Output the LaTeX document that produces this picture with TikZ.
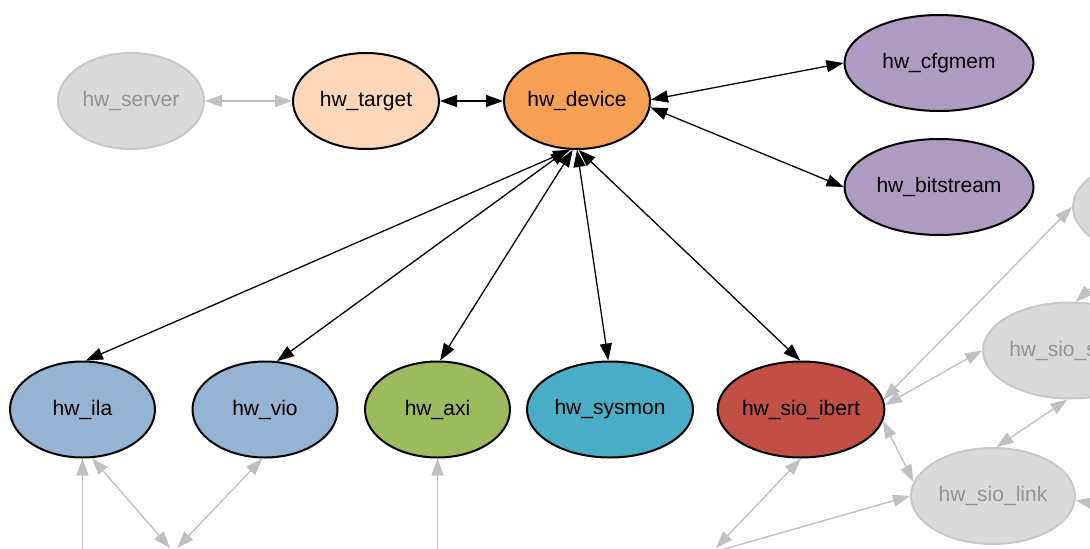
\documentclass[tikz,border=0pt]{standalone}
\usepackage{fontspec}
\setmainfont{Liberation Sans}
\usetikzlibrary{shapes.geometric,arrows.meta}
\definecolor{cTarget}{HTML}{FCD7B9}
\definecolor{cDevice}{HTML}{F6A055}
\definecolor{cPurple}{HTML}{AE9BC2}
\definecolor{cBlue}{HTML}{95B3D3}
\definecolor{cGreen}{HTML}{9DBB5E}
\definecolor{cTeal}{HTML}{4AADC6}
\definecolor{cRed}{HTML}{C14F45}
\definecolor{cGrayFill}{HTML}{D9D9D9}
\definecolor{cGrayLine}{HTML}{C8C8C8}
\definecolor{cGrayText}{HTML}{939393}
\definecolor{cGrayEdge}{HTML}{C0C0C0}
\begin{document}
\begin{tikzpicture}[x=1pt,y=-1pt,
  nd/.style={ellipse, draw=black, line width=2pt, inner sep=0pt, minimum height=96pt,
    font=\fontsize{21}{25}\selectfont},
  gnd/.style={nd, draw=cGrayLine, fill=cGrayFill, text=cGrayText},
  conn/.style={line width=1.3pt, draw=black, >={Triangle[length=17pt,width=12pt]}},
  gconn/.style={conn, draw=cGrayEdge}
]
\useasboundingbox (0,0) rectangle (1090,549);
\clip (0,0) rectangle (1090,549);
\fill[white] (0,0) rectangle (1090,549);

% top row
\node[gnd, minimum width=146pt] (server) at (131,101) {hw\_server};
\node[nd, fill=cTarget, minimum width=146pt] (target) at (366,101) {hw\_target};
\node[nd, fill=cDevice, minimum width=146pt] (device) at (577,101) {hw\_device};
\node[nd, fill=cPurple, minimum width=189pt] (cfgmem) at (939,63) {hw\_cfgmem};
\node[nd, fill=cPurple, minimum width=189pt] (bitstream) at (939,187) {hw\_bitstream};

% lower row
\node[nd, fill=cBlue, minimum width=145pt] (ila) at (82.5,409.5) {hw\_ila};
\node[nd, fill=cBlue, minimum width=145pt] (vio) at (265,409.5) {hw\_vio};
\node[nd, fill=cGreen, minimum width=145pt] (axi) at (437.5,409.5) {hw\_axi};
\node[nd, fill=cTeal, minimum width=166pt] (sysmon) at (610,409.5) {hw\_sysmon};
\node[nd, fill=cRed, minimum width=164pt] (ibert) at (801,409.5) {hw\_sio\_ibert};

% gray nodes on the right
\node[gnd, minimum width=164pt] (tr) at (1155,207) {};
\node[gnd, minimum width=174pt] (sios) at (1070,350.5) {hw\_sio\_scan};
\node[gnd, minimum width=164pt] (link) at (993,496) {hw\_sio\_link};

% free ends
\coordinate (bl) at (170,548);
\coordinate (br) at (177,548);
\coordinate (ilad) at (82.5,620);
\coordinate (axid) at (437.5,620);
\coordinate (ibd) at (716,548);
\coordinate (lkd) at (700,556);
\coordinate (lkr) at (1140,512);

% black edges
\draw[conn,<->] (target.east) -- (device.west);
\draw[conn,<->] (device.1) -- (cfgmem.west);
\draw[conn,<->] (device.-5) -- (bitstream.west);
\draw[conn,<->] (device.-98) -- (ila.86);
\draw[conn,<->] (device.-101) -- (vio.76);
\draw[conn,<->] (device.-95) -- (axi.87);
\draw[conn,<->] (device.-90) -- (sysmon.92);
\draw[conn,<->] (device.-88) -- (ibert.91);

% gray edges
\draw[gconn,<->] (server.east) -- (target.west);
\draw[gconn,<->] (ila.-79) -- (bl);
\draw[gconn,<->] (vio.-93) -- (br);
\draw[gconn,<-] (ila.south) -- (ilad);
\draw[gconn,<-] (axi.south) -- (axid);
\draw[gconn,<->] (ibert.south) -- (ibd);
\draw[gconn,->] (lkd) -- (link.west);
\draw[gconn,<->] (ibert.-8) -- (link.170);
\draw[gconn,<->] (ibert.3) -- (sios.west);
\draw[gconn,<->] (ibert.7) -- (tr.west);
\draw[gconn,<->] (sios.-93) -- (link.86);
\draw[gconn,<->] (tr.-120) -- (sios.83);
\draw[gconn,->] (lkr) -- (link.-3);
\end{tikzpicture}
\end{document}
